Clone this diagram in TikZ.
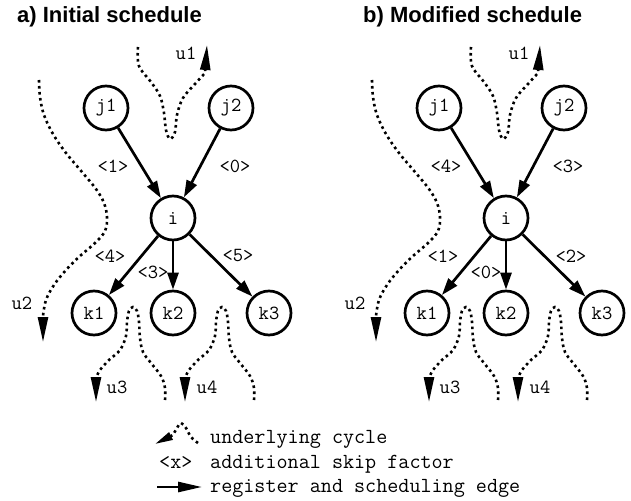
\documentclass[tikz,border=0pt]{standalone}
\usepackage{fontspec}
\setmainfont{Liberation Serif}
\newfontfamily\titlefont{Liberation Sans}
\usetikzlibrary{arrows.meta}
\tikzset{
  vnode/.style={circle, draw, line width=2.7pt, minimum size=44pt, inner sep=0pt,
    font=\ttfamily\fontsize{20}{20}\selectfont},
  edge/.style={line width=2.7pt, -{Triangle[length=17pt,width=11pt]}},
  lbl/.style={font=\ttfamily\fontsize{20}{20}\selectfont, inner sep=0pt},
  cyc/.style={line width=2.6pt, dash pattern=on 2.6pt off 3.4pt},
  cycarrow/.style={cyc, -{Triangle[length=25pt,width=10pt]}},
  ttl/.style={font=\titlefont\bfseries\fontsize{22}{22}\selectfont, anchor=base west, inner sep=0pt},
  legtxt/.style={font=\ttfamily\fontsize{21.5}{21.5}\selectfont, anchor=base west, inner sep=0pt},
}
\newcommand\schedpanel[6]{%
  \node[vnode] (#1j1) at (106,108) {j1};
  \node[vnode] (#1j2) at (231,108) {j2};
  \node[vnode] (#1i)  at (173,218) {i};
  \node[vnode] (#1k1) at (94,313)  {k1};
  \node[vnode] (#1k2) at (173,313) {k2};
  \node[vnode] (#1k3) at (269,313) {k3};
  \draw[edge] (#1j1) -- (#1i);
  \draw[edge] (#1j2) -- (#1i);
  \draw[edge] (#1i) -- (#1k1);
  \draw[edge] (#1i) -- (#1k2);
  \draw[edge] (#1i) -- (#1k3);
  \node[lbl] (#1la) at (113,166) {<#2>};
  \node[lbl] (#1lb) at (235,166) {<#3>};
  \node[lbl] (#1lc) at (110,256) {<#4>};
  \node[lbl] (#1ld) at (153,272) {<#5>};
  \node[lbl] (#1le) at (238,256) {<#6>};
  % underlying cycles
  \draw[cycarrow] plot[smooth, tension=0.6] coordinates {(138,47) (139,66) (151,82) (160,96) (164,113) (166,130) (170,139) (175,132) (177,115) (183,98) (195,84) (205,73)} -- (207,45);
  \node[lbl] (#1u1) at (186,53) {u1};
  \draw[cycarrow] plot[smooth, tension=0.6] coordinates {(39,80) (40,97) (44,115) (53,134) (66,153) (82,172) (96,189) (104,203) (107,217) (105,231) (95,243) (80,256) (66,270) (54,285) (46,300) (43,316)} -- (43,342);
  \node[lbl] (#1u2) at (22,303) {u2};
  \draw[cycarrow] plot[smooth, tension=0.6] coordinates {(165,400) (165,388) (161,376) (151,363) (143,352) (140,338) (139,322) (137,311) (133,307) (129,311) (127,322) (126,336) (120,350) (109,360) (100,370) (96,378)} -- (96,402);
  \node[lbl] (#1u3) at (117,387) {u3};
  \begin{scope}[xshift=89pt]
  \draw[cycarrow] plot[smooth, tension=0.6] coordinates {(165,400) (165,388) (161,376) (151,363) (143,352) (140,338) (139,322) (137,311) (133,307) (129,311) (127,322) (126,336) (120,350) (109,360) (100,370) (96,378)} -- (96,402);
  \end{scope}
  \node[lbl] (#1u4) at (207,387) {u4};
}
\begin{document}
\begin{tikzpicture}[x=1pt, y=-1pt]
\useasboundingbox (0,0) rectangle (631,500);
\node[ttl] (ta) at (17,23) {a) Initial schedule};
\node[ttl] (tb) at (363,23) {b) Modified schedule};
\schedpanel{a}{1}{0}{4}{3}{5}
\begin{scope}[xshift=333pt]
\schedpanel{b}{4}{3}{1}{0}{2}
\end{scope}
% legend
\draw[cyc, -{Triangle[length=18pt,width=8pt]}] plot[smooth, tension=0.6] coordinates {(198,443) (191,437) (186,428) (181,423) (177,428) (173,435)} -- (155,444);
\node[legtxt] (leg1) at (210,443.5) {underlying cycle};
\node[legtxt] (legx) at (159,468) {<x>};
\node[legtxt] (leg2) at (210,468) {additional skip factor};
\coordinate (la) at (157,487);
\coordinate (lb) at (202,487);
\draw[line width=2.7pt, -{Triangle[length=24pt,width=10pt]}] (la) -- (lb);
\node[legtxt] (leg3) at (210,492) {register and scheduling edge};
\end{tikzpicture}
\end{document}
